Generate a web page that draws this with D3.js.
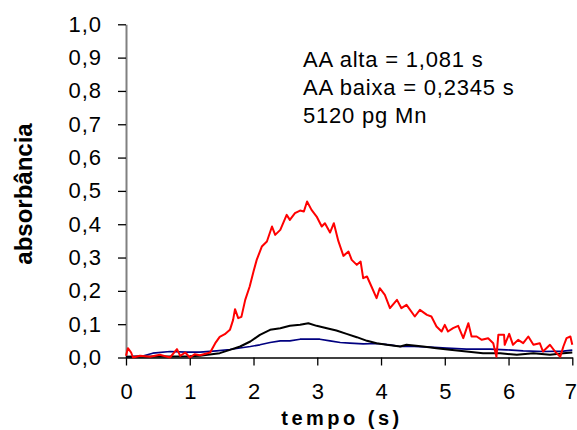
<!DOCTYPE html>
<html>
    <head>
        <title>absorbância x tempo</title>
        <script src="https://d3js.org/d3.v7.min.js"></script>
    </head>
    <style>
        body { margin: 0; background: #fff; }
        text { font-family: Arial, "Liberation Sans", sans-serif; }
    </style>
    <body>
        <div class="graph"></div>
        <script>
            // tick labels
            const xTicks = [0, 1, 2, 3, 4, 5, 6, 7];
            const yTicks = [0, 0.1, 0.2, 0.3, 0.4, 0.5, 0.6, 0.7, 0.8, 0.9, 1.0];

            const notes = ['AA alta = 1,081 s', 'AA baixa = 0,2345 s', '5120 pg Mn'];

            // AA alta (red) - time (s) and absorbance
            const redT = [0, 0.03, 0.08, 0.11, 0.22, 0.38, 0.53, 0.69, 0.80, 0.85, 0.93, 1.00, 1.08, 1.16, 1.32, 1.40, 1.47, 1.55, 1.63, 1.68,
                1.71, 1.76, 1.81, 1.87, 1.94, 2.00, 2.05, 2.13, 2.21, 2.29, 2.34, 2.42, 2.52, 2.57, 2.65, 2.73, 2.79, 2.84, 2.91, 2.99,
                3.07, 3.12, 3.20, 3.26, 3.33, 3.41, 3.49, 3.54, 3.62, 3.68, 3.72, 3.78, 3.85, 3.93, 3.98, 4.06, 4.14, 4.25, 4.32, 4.40,
                4.53, 4.61, 4.72, 4.79, 4.87, 4.95, 5.00, 5.05, 5.13, 5.21, 5.29, 5.37, 5.42, 5.50, 5.58, 5.68, 5.76, 5.81, 5.84, 5.93,
                5.94, 6.01, 6.07, 6.15, 6.23, 6.31, 6.39, 6.49, 6.54, 6.65, 6.73, 6.81, 6.86, 6.91, 6.97, 7.00];
            const redV = [0.005, 0.028, 0.015, 0.0, 0.005, 0.002, 0.008, 0.0, 0.025, 0.005, 0.015, 0.0, 0.01, 0.007, 0.015, 0.043, 0.062, 0.07, 0.083, 0.113,
                0.145, 0.118, 0.122, 0.173, 0.213, 0.258, 0.293, 0.333, 0.348, 0.393, 0.368, 0.383, 0.428, 0.413, 0.433, 0.441, 0.438, 0.468, 0.443, 0.423,
                0.393, 0.403, 0.375, 0.403, 0.35, 0.305, 0.318, 0.293, 0.278, 0.288, 0.238, 0.243, 0.213, 0.178, 0.208, 0.188, 0.148, 0.173, 0.148, 0.158,
                0.123, 0.143, 0.128, 0.123, 0.093, 0.078, 0.098, 0.078, 0.088, 0.095, 0.058, 0.103, 0.063, 0.063, 0.053, 0.058, 0.043, 0.002, 0.068, 0.068,
                0.038, 0.071, 0.038, 0.053, 0.043, 0.063, 0.038, 0.043, 0.018, 0.038, 0.018, 0.002, 0.033, 0.058, 0.063, 0.038];

            // black
            const blackT = [0, 0.5, 1.0, 1.16, 1.47, 1.63, 1.79, 1.95, 2.10, 2.26, 2.42, 2.57, 2.73, 2.86, 2.99, 3.15, 3.30, 3.46, 3.62,
                3.78, 3.93, 4.09, 4.30, 4.40, 4.66, 4.87, 5.08, 5.34, 5.60, 5.87, 6.13, 6.39, 6.65, 6.86, 7.00];
            const blackV = [0.002, 0.003, 0.004, 0.005, 0.013, 0.023, 0.033, 0.048, 0.068, 0.083, 0.088, 0.095, 0.098, 0.103, 0.095, 0.088, 0.081, 0.071, 0.061,
                0.05, 0.043, 0.038, 0.033, 0.038, 0.033, 0.028, 0.023, 0.018, 0.013, 0.013, 0.008, 0.013, 0.008, 0.013, 0.015];

            // AA baixa (navy)
            const blueT = [0, 0.25, 0.42, 0.69, 0.95, 1.16, 1.42, 1.63, 1.84, 1.95, 2.10, 2.26, 2.42, 2.57, 2.73, 2.89, 3.04, 3.20, 3.36,
                3.51, 3.72, 3.93, 4.14, 4.30, 4.52, 4.77, 5.03, 5.34, 5.71, 5.97, 6.23, 6.55, 6.86, 7.00];
            const blueV = [0.002, 0.004, 0.013, 0.018, 0.016, 0.016, 0.02, 0.024, 0.03, 0.033, 0.038, 0.045, 0.05, 0.05, 0.055, 0.055, 0.055, 0.05, 0.045,
                0.043, 0.041, 0.042, 0.038, 0.033, 0.033, 0.031, 0.028, 0.025, 0.025, 0.023, 0.02, 0.018, 0.019, 0.022];

            const series = [
                { name: 'baixa', t: blueT, v: blueV, colour: '#000080', w: 1.6 },
                { name: 'preto', t: blackT, v: blackV, colour: '#000000', w: 2 },
                { name: 'alta', t: redT, v: redV, colour: '#ff0000', w: 2 }
            ];

            let width = 577;
            let height = 430;

            const x = d3.scaleLinear()
                .domain([0, 7])
                .range([126, 572.3]);

            const y = d3.scaleLinear()
                .domain([0, 1])
                .range([357.5, 24.3]);

            const comma = d => d3.format('.1f')(d).replace('.', ',');

            let chart = d3.select('.graph')
                .append('svg')
                .attr('width', width)
                .attr('height', height);

            // y axis
            const yAxis = chart.append('g')
                .attr('transform', 'translate(126, 0)')
                .call(d3.axisLeft(y).tickValues(yTicks).tickFormat(comma).tickSize(8).tickPadding(16).tickSizeOuter(0));
            yAxis.select('.domain').attr('stroke', '#808080').attr('stroke-width', 2);
            yAxis.selectAll('.tick line').attr('stroke', '#000').attr('stroke-width', 1.3);
            yAxis.selectAll('.tick text')
                .attr('font-size', 22)
                .attr('letter-spacing', 1)
                .attr('fill', '#000');

            // x axis
            const xAxis = chart.append('g')
                .attr('transform', `translate(0, ${y(0)})`)
                .call(d3.axisBottom(x).tickValues(xTicks).tickFormat(d3.format('d')).tickSize(8).tickPadding(18).tickSizeOuter(0));
            xAxis.select('.domain').attr('stroke', '#000').attr('stroke-width', 1.5);
            xAxis.selectAll('.tick line').attr('stroke', '#000').attr('stroke-width', 1.3);
            xAxis.selectAll('.tick text')
                .attr('font-size', 22)
                .attr('fill', '#000');
            // last label sits against the right edge
            xAxis.selectAll('.tick text').filter(d => d === 7).attr('dx', -2);

            // curves
            const line = d3.line()
                .x(d => x(d[0]))
                .y(d => y(d[1]));

            series.forEach(s => {
                chart.append('path')
                    .datum(d3.zip(s.t, s.v))
                    .attr('fill', 'none')
                    .attr('stroke', s.colour)
                    .attr('stroke-width', s.w)
                    .attr('stroke-linejoin', 'round')
                    .attr('d', line);
            });

            // notes
            chart.append('g')
                .selectAll('text')
                .data(notes)
                .enter()
                .append('text')
                .attr('x', 303)
                .attr('y', (d, i) => 66.7 + i * 28)
                .attr('font-size', 22)
                .attr('letter-spacing', 0.8)
                .text(d => d);

            // axis titles
            chart.append('text')
                .attr('transform', 'translate(32, 194) rotate(-90)')
                .attr('text-anchor', 'middle')
                .attr('font-size', 24)
                .attr('font-weight', 'bold')
                .text('absorbância');

            chart.append('text')
                .attr('x', 342)
                .attr('y', 425)
                .attr('text-anchor', 'middle')
                .attr('font-size', 20)
                .attr('font-weight', 'bold')
                .attr('letter-spacing', 3.5)
                .text('tempo (s)');
        </script>
    </body>
</html>
